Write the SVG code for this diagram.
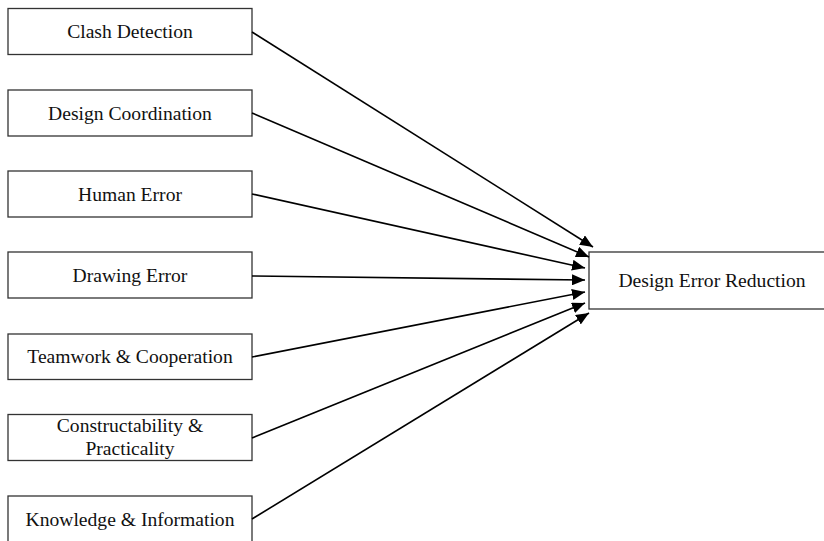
<svg xmlns="http://www.w3.org/2000/svg" width="824" height="541" viewBox="0 0 824 541">
<defs>
<marker id="arr" markerWidth="13" markerHeight="11" refX="13" refY="5.5" orient="auto" markerUnits="userSpaceOnUse">
<path d="M0,0 L13,5.5 L0,11 z" fill="#000"/>
</marker>
</defs>
<style>
.box{fill:#fff;stroke:#333;stroke-width:1.3}
.lbl{font-family:"Liberation Serif","Times New Roman",serif;font-size:19.6px;fill:#111;text-anchor:middle}
.cn{stroke:#000;stroke-width:1.6;fill:none;marker-end:url(#arr)}
</style>
<rect width="824" height="541" fill="#fff"/>
<g id="n1"><rect class="box" x="8" y="8.5" width="244" height="46"/><text class="lbl" x="130" y="38">Clash Detection</text></g>
<g id="n2"><rect class="box" x="8" y="90" width="244" height="46"/><text class="lbl" x="130" y="119.5">Design Coordination</text></g>
<g id="n3"><rect class="box" x="8" y="171" width="244" height="46"/><text class="lbl" x="130" y="200.5">Human Error</text></g>
<g id="n4"><rect class="box" x="8" y="252" width="244" height="46"/><text class="lbl" x="130" y="281.5">Drawing Error</text></g>
<g id="n5"><rect class="box" x="8" y="334" width="244" height="45.5"/><text class="lbl" x="130" y="363">Teamwork &amp; Cooperation</text></g>
<g id="n6"><rect class="box" x="8" y="414.5" width="244" height="46"/><text class="lbl" x="130" y="432">Constructability &amp;</text><text class="lbl" x="130" y="455">Practicality</text></g>
<g id="n7"><rect class="box" x="8" y="496" width="244" height="46"/><text class="lbl" x="130" y="525.5">Knowledge &amp; Information</text></g>
<g id="target"><rect class="box" x="589" y="252" width="246" height="57"/><text class="lbl" x="712" y="287">Design Error Reduction</text></g>
<g id="connectors">
<line class="cn" x1="252" y1="32" x2="593" y2="247"/>
<line class="cn" x1="252" y1="113" x2="589" y2="257"/>
<line class="cn" x1="252" y1="194" x2="585" y2="268"/>
<line class="cn" x1="252" y1="276" x2="585" y2="280"/>
<line class="cn" x1="252" y1="357" x2="585" y2="292"/>
<line class="cn" x1="252" y1="438" x2="585" y2="303"/>
<line class="cn" x1="252" y1="519" x2="589" y2="313"/>
</g>
</svg>
